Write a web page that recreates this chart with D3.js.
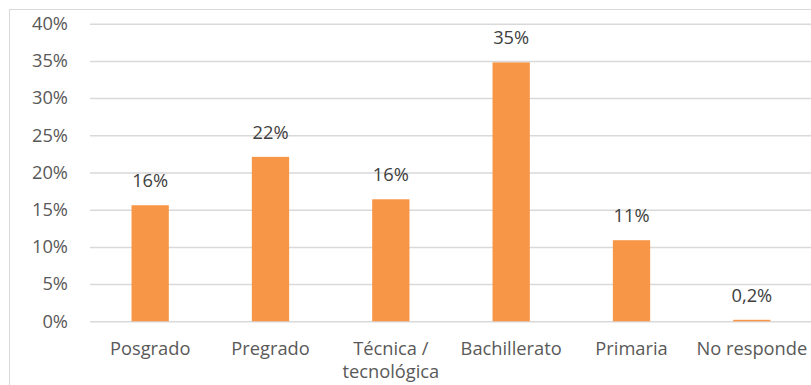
<!DOCTYPE html>
<html><head><meta charset="utf-8">
<script src="https://cdn.jsdelivr.net/npm/d3@7"></script>
<style>body{margin:0;background:#fff;} svg{display:block;}</style>
</head><body>
<script>
const categories = ["Posgrado", "Pregrado", "Técnica / tecnológica", "Bachillerato", "Primaria", "No responde"];
const values = [15.6, 22.1, 16.4, 34.8, 10.9, 0.2];
const valueLabels = ["16%", "22%", "16%", "35%", "11%", "0,2%"];
const yTicks = [0, 5, 10, 15, 20, 25, 30, 35, 40];

const W = 811, H = 385;
const m = {left: 90, right: -1, top: 23.7, bottom: 63.7};
const font = "'Open Sans', 'Liberation Sans', Arial, sans-serif";
const fs = "18.3px";

const svg = d3.select("body").append("svg").attr("width", W).attr("height", H);
svg.append("rect").attr("x", 9.5).attr("y", 9.5).attr("width", W).attr("height", H)
  .attr("fill", "#fff").attr("stroke", "#d9d9d9").attr("stroke-width", 1);

const x = d3.scaleBand().domain(categories).range([m.left, W - m.right]).paddingInner(0.69).paddingOuter(0.345);
const y = d3.scaleLinear().domain([0, 40]).range([H - m.bottom, m.top]);

const yAxis = d3.axisLeft(y).tickValues(yTicks).tickFormat(d => d + "%").tickSize(-(W - m.right - m.left)).tickPadding(22);
const gy = svg.append("g").attr("transform", `translate(${m.left},0)`).call(yAxis);
gy.select(".domain").remove();
gy.selectAll(".tick line").attr("stroke", "#d9d9d9").attr("stroke-width", 1.5);
gy.selectAll(".tick text").attr("fill", "#595959").style("font-family", font).style("font-size", fs);

svg.append("g").selectAll("rect").data(values).join("rect")
  .attr("x", (d, i) => x(categories[i]))
  .attr("width", x.bandwidth())
  .attr("y", d => y(d))
  .attr("height", d => y(0) - y(d))
  .attr("fill", "#f79646");

svg.append("g").selectAll("text").data(values).join("text")
  .attr("x", (d, i) => x(categories[i]) + x.bandwidth() / 2)
  .attr("y", d => y(d) - 18)
  .attr("text-anchor", "middle")
  .attr("fill", "#404040")
  .style("font-family", font).style("font-size", fs)
  .text((d, i) => valueLabels[i]);

const xAxis = d3.axisBottom(x).tickSize(0).tickPadding(0);
const gx = svg.append("g").attr("transform", `translate(0,${y(0)})`).call(xAxis);
gx.select(".domain").remove();
gx.selectAll(".tick text").attr("fill", "#595959").style("font-family", font).style("font-size", fs)
  .each(function(d) {
    const t = d3.select(this);
    t.text(null).attr("dy", null).attr("y", 0);
    const parts = d === "Técnica / tecnológica" ? ["Técnica /", "tecnológica"] : [d];
    parts.forEach((p, k) => t.append("tspan").attr("x", 0).attr("y", 34 + k * 23).text(p));
  });
</script>
</body></html>
